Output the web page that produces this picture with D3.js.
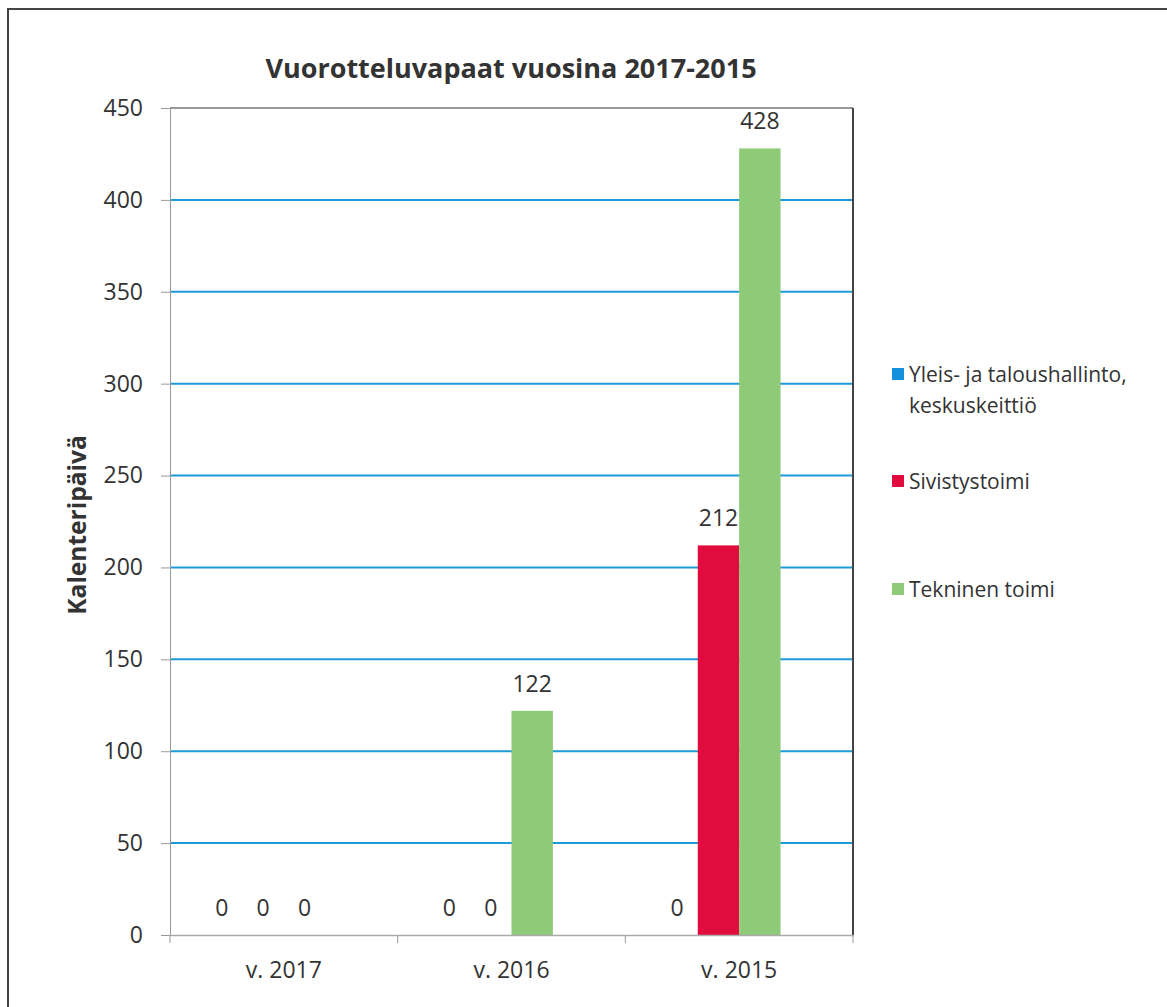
<!DOCTYPE html>
<html>
<head>
<meta charset="utf-8">
<script src="https://cdn.jsdelivr.net/npm/d3@7/dist/d3.min.js"></script>
<style>
  body { margin: 0; background: #fff; }
  svg, svg text { font-family: "Open Sans", "Noto Sans", sans-serif; }
</style>
</head>
<body>
<svg id="svg" width="1167" height="1007"></svg>
<script>
// data
var categories = ["v. 2017", "v. 2016", "v. 2015"];
var seriesNames = ["Yleis- ja taloushallinto, keskuskeittiö", "Sivistystoimi", "Tekninen toimi"];
var yleis = [0, 0, 0];
var sivistys = [0, 0, 212];
var tekninen = [0, 122, 428];
var yTicks = [0, 50, 100, 150, 200, 250, 300, 350, 400, 450];
var colors = ["#1591dc", "#e10b3d", "#8fca78"];

var values = [yleis, sivistys, tekninen];

var svg = d3.select("#svg");

var plotL = 170, plotR = 853, plotT = 108, plotB = 935;

// outer frame
svg.append("rect")
    .attr("x", 8).attr("y", 9)
    .attr("width", 1170).attr("height", 1010)
    .attr("fill", "none").attr("stroke", "#444").attr("stroke-width", 2);

var x0 = d3.scaleBand().domain(categories).range([plotL, plotR]);
// Excel leaves a fourth empty slot in each group
var x1 = d3.scaleBand().domain(d3.range(4)).range([0, x0.bandwidth()])
    .paddingInner(0).paddingOuter(0.75);
var y = d3.scaleLinear().domain([0, 450]).range([plotB, plotT]);

// gridlines
svg.append("g")
    .selectAll("line")
    .data(yTicks.filter(function(d){ return d > 0 && d < 450; }))
    .enter().append("line")
    .attr("x1", plotL).attr("x2", plotR)
    .attr("y1", function(d){ return y(d); })
    .attr("y2", function(d){ return y(d); })
    .attr("stroke", "#1f9ad8").attr("stroke-width", 2);

// plot border top + right
svg.append("line").attr("x1", plotL).attr("x2", plotR).attr("y1", plotT).attr("y2", plotT)
    .attr("stroke", "#777").attr("stroke-width", 1.5);
svg.append("line").attr("x1", plotR).attr("x2", plotR).attr("y1", plotT).attr("y2", plotB)
    .attr("stroke", "#444").attr("stroke-width", 2);

// bars
var groups = svg.append("g").selectAll("g")
    .data(categories)
    .enter().append("g")
    .attr("transform", function(d){ return "translate(" + x0(d) + ",0)"; });

groups.selectAll("rect")
    .data(function(c, i){ return values.map(function(v, s){ return {s: s, v: v[i]}; }); })
    .enter().append("rect")
    .attr("x", function(d){ return x1(d.s); })
    .attr("width", x1.bandwidth())
    .attr("y", function(d){ return y(d.v); })
    .attr("height", function(d){ return plotB - y(d.v); })
    .attr("fill", function(d){ return colors[d.s]; });

groups.selectAll("text")
    .data(function(c, i){ return values.map(function(v, s){ return {s: s, v: v[i]}; }); })
    .enter().append("text")
    .attr("x", function(d){ return x1(d.s) + x1.bandwidth() / 2; })
    .attr("y", function(d){ return y(d.v) - 19; })
    .attr("text-anchor", "middle")
    .style("font-size", "23px")
    .attr("fill", "#333")
    .text(function(d){ return d.v; });

// axes
var yAxis = svg.append("g")
    .attr("transform", "translate(" + plotL + ",0)")
    .call(d3.axisLeft(y).tickValues(yTicks).tickSize(9).tickPadding(18));
yAxis.attr("font-family", null);
yAxis.select(".domain").attr("stroke", "#999");
yAxis.selectAll(".tick line").attr("stroke", "#999");
yAxis.selectAll("text").style("font-size", "23px").attr("fill", "#333");

var xAxis = svg.append("g")
    .attr("transform", "translate(0," + plotB + ")")
    .call(d3.axisBottom(x0).tickSize(0).tickPadding(27));
xAxis.attr("font-family", null);
xAxis.select(".domain").attr("stroke", "#aaa").attr("stroke-width", 1.5);
xAxis.selectAll("text").style("font-size", "23px").attr("fill", "#333");
// category boundary ticks
xAxis.selectAll(".bound")
    .data([plotL, x0(categories[1]), x0(categories[2]), plotR])
    .enter().append("line")
    .attr("x1", function(d){ return d; }).attr("x2", function(d){ return d; })
    .attr("y1", 0).attr("y2", 8)
    .attr("stroke", "#999");

// title
svg.append("text")
    .attr("x", 511).attr("y", 78)
    .attr("text-anchor", "middle")
    .style("font-size", "27px").style("font-weight", "bold")
    .attr("fill", "#333")
    .text("Vuorotteluvapaat vuosina 2017-2015");

svg.append("text")
    .attr("transform", "translate(86,525) rotate(-90)")
    .attr("text-anchor", "middle")
    .style("font-size", "24.5px").style("font-weight", "bold")
    .attr("fill", "#333")
    .text("Kalenteripäivä");

// legend
var legendY = [374, 481, 589];
var legendLines = [["Yleis- ja taloushallinto,", "keskuskeittiö"], ["Sivistystoimi"], ["Tekninen toimi"]];
var legend = svg.append("g").selectAll("g")
    .data(seriesNames)
    .enter().append("g")
    .attr("transform", function(d, i){ return "translate(892," + legendY[i] + ")"; });
legend.append("rect")
    .attr("x", 0).attr("y", -6).attr("width", 12).attr("height", 12)
    .attr("fill", function(d, i){ return colors[i]; });
legend.append("text")
    .attr("x", 17).attr("y", 8)
    .style("font-size", "21px").attr("fill", "#333")
    .selectAll("tspan")
    .data(function(d, i){ return legendLines[i]; })
    .enter().append("tspan")
    .attr("x", 17)
    .attr("dy", function(d, j){ return j === 0 ? 0 : 31; })
    .text(function(d){ return d; });
</script>
</body>
</html>
